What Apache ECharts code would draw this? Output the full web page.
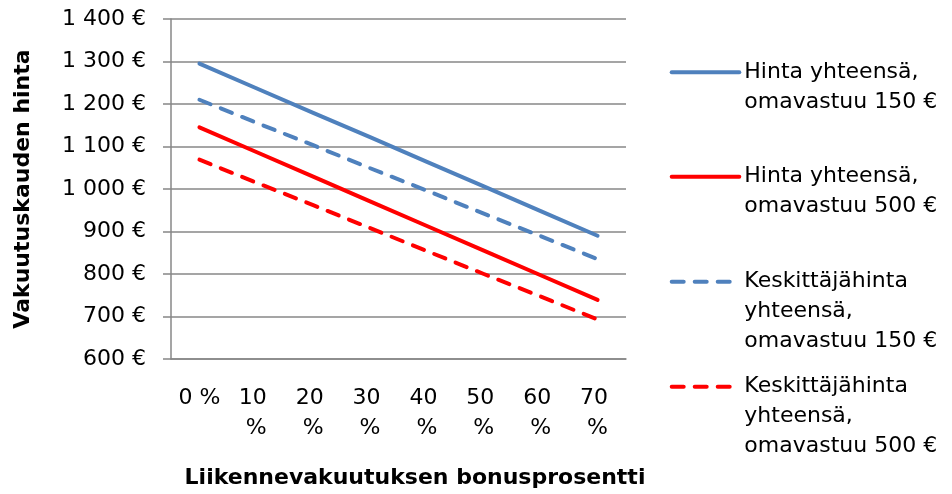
<!DOCTYPE html>
<html>
<head>
<meta charset="utf-8">
<title>Vakuutuskauden hinta</title>
<script src="https://cdn.jsdelivr.net/npm/echarts/dist/echarts.min.js"></script>
<style>
  html, body { margin: 0; padding: 0; background: #ffffff; }
  #chart { width: 952px; height: 494px; }
</style>
</head>
<body>
<div id="chart"></div>
<script>
// Bonus levels on the x axis
const bonusLabels = ['0 %', '10 %', '20 %', '30 %', '40 %', '50 %', '60 %', '70 %'];

// Yearly insurance price (€) by bonus level
const hinta150 = [1295, 1237, 1179, 1122, 1064, 1006, 948, 890];
const hinta500 = [1145, 1087, 1029, 971, 913, 855, 797, 739];
const keskittaja150 = [1210, 1156, 1103, 1049, 996, 942, 889, 835];
const keskittaja500 = [1069, 1015, 962, 908, 854, 800, 747, 693];

const seriesNames = [
  'Hinta yhteensä,\nomavastuu 150 €',
  'Hinta yhteensä,\nomavastuu 500 €',
  'Keskittäjähinta\nyhteensä,\nomavastuu 150 €',
  'Keskittäjähinta\nyhteensä,\nomavastuu 500 €'
];

const yTitle = 'Vakuutuskauden hinta';
const xTitle = 'Liikennevakuutuksen bonusprosentti';

const FONT = '"DejaVu Sans", "Liberation Sans", Arial, sans-serif';
const GRAY = '#878787';
const BLUE = '#4F81BD';
const RED = '#FF0000';
const DASH = [12, 11];

function euro(v) {
  return String(v).replace(/\B(?=(\d{3})+(?!\d))/g, ' ') + ' €';
}

// One legend block per series so each entry sits at its own height.
// Legend text is centred on the line sample, so blank lines are put in
// front of the name to bring its first line level with the sample.
function legendBlock(idx, top, dashed) {
  return {
    show: true,
    orient: 'vertical',
    left: 669.7,
    top: top,
    padding: 0,
    itemGap: 0,
    itemWidth: 67.6,
    itemHeight: 4,
    selectedMode: false,
    formatter: function (name) {
      const lineCount = name.split('\n').length;
      return '\n'.repeat(lineCount - 1) + name;
    },
    textStyle: { fontFamily: FONT, fontSize: 22, lineHeight: 30, color: '#000' },
    itemStyle: { opacity: 0 },
    lineStyle: { width: 4, type: dashed ? DASH : 'solid', cap: 'round' },
    data: [seriesNames[idx]]
  };
}

function lineSeries(name, data, color, dashed) {
  return {
    name: name,
    type: 'line',
    data: data,
    symbol: 'none',
    silent: true,
    itemStyle: { color: color },
    lineStyle: { color: color, width: 4, type: dashed ? DASH : 'solid', cap: 'round', join: 'round' }
  };
}

const chart = echarts.init(document.getElementById('chart'), null, { renderer: 'canvas' });

chart.setOption({
  backgroundColor: '#ffffff',
  animation: false,
  grid: { left: 171, right: 326, top: 19, bottom: 135, containLabel: false },
  legend: [
    legendBlock(0, 27.3, false),
    legendBlock(1, 131.7, false),
    legendBlock(2, 206.7, true),
    legendBlock(3, 311.7, true)
  ],
  xAxis: {
    type: 'category',
    data: bonusLabels,
    boundaryGap: true,
    axisLine: { show: true, lineStyle: { color: GRAY, width: 1.5 } },
    axisTick: { show: false },
    splitLine: { show: false },
    axisLabel: {
      interval: 0,
      margin: 24,
      width: 48,
      overflow: 'break',
      lineHeight: 30,
      fontFamily: FONT,
      fontSize: 22,
      color: '#000'
    }
  },
  yAxis: {
    type: 'value',
    min: 600,
    max: 1400,
    interval: 100,
    name: yTitle,
    nameLocation: 'middle',
    nameRotate: 90,
    nameGap: 137,
    nameTextStyle: { fontFamily: FONT, fontWeight: 'bold', fontSize: 22, color: '#000' },
    axisLine: { show: true, lineStyle: { color: GRAY, width: 1.5 } },
    axisTick: { show: true, length: 8, lineStyle: { color: GRAY, width: 1.5 } },
    splitLine: { show: true, lineStyle: { color: GRAY, width: 1.5 } },
    axisLabel: {
      margin: 25,
      fontFamily: FONT,
      fontSize: 22,
      color: '#000',
      formatter: euro
    }
  },
  graphic: [{
    type: 'text',
    x: 415,
    y: 478,
    silent: true,
    style: {
      text: xTitle,
      fill: '#000',
      font: 'bold 22px ' + FONT,
      align: 'center',
      verticalAlign: 'middle'
    }
  }],
  series: [
    lineSeries(seriesNames[0], hinta150, BLUE, false),
    lineSeries(seriesNames[1], hinta500, RED, false),
    lineSeries(seriesNames[2], keskittaja150, BLUE, true),
    lineSeries(seriesNames[3], keskittaja500, RED, true)
  ]
});
</script>
</body>
</html>
